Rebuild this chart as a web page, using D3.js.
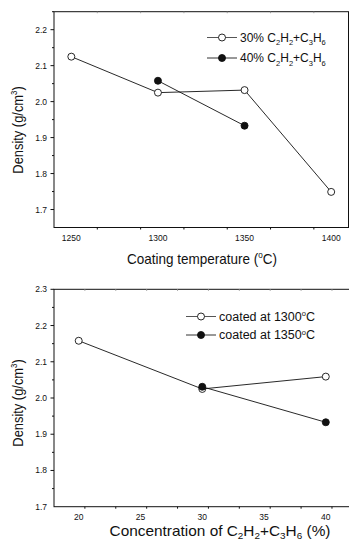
<!DOCTYPE html>
<html>
<head>
<meta charset="utf-8">
<script src="https://cdn.jsdelivr.net/npm/d3@7"></script>
<style>
  body { margin: 0; background: #fff; }
  text { font-family: "Liberation Sans", Arial, sans-serif; fill: #111; }
</style>
</head>
<body>
<script>
var width = 349, height = 543;

// top panel: density vs coating temperature
var tempX = [1250, 1300, 1350, 1400];
var dens30 = [2.125, 2.025, 2.032, 1.749];
var tempX40 = [1300, 1350];
var dens40 = [2.058, 1.933];
var topXTicks = [1250, 1300, 1350, 1400];
var topYTicks = [1.7, 1.8, 1.9, 2.0, 2.1, 2.2];

// bottom panel: density vs concentration
var concX = [20, 30, 40];
var dens1300 = [2.158, 2.025, 2.059];
var concX1350 = [30, 40];
var dens1350 = [2.031, 1.933];
var botXTicks = [20, 25, 30, 35, 40];
var botYTicks = [1.7, 1.8, 1.9, 2.0, 2.1, 2.2, 2.3];

var svg = d3.select('body').append('svg')
  .attr('width', width)
  .attr('height', height);

function panel(opt) {
  var x = d3.scaleLinear().domain(opt.xDomain).range([opt.left, opt.right]);
  var y = d3.scaleLinear().domain(opt.yDomain).range([opt.bottom, opt.top]);
  var g = svg.append('g');

  // frame
  g.append('rect')
    .attr('x', opt.left).attr('y', opt.top)
    .attr('width', opt.right - opt.left).attr('height', opt.bottom - opt.top)
    .attr('fill', 'none').attr('stroke', '#111').attr('stroke-width', 1);

  // bottom axis: major + minor ticks outward
  var xMinor = d3.range(opt.xDomain[0], opt.xDomain[1] + 1e-9, opt.xMinor)
    .filter(function(v) { return v > opt.xDomain[0] && v < opt.xDomain[1]; });
  g.selectAll('.xmin').data(xMinor).enter().append('line')
    .attr('x1', x).attr('x2', x)
    .attr('y1', opt.bottom).attr('y2', function(d) {
      return opt.bottom + (opt.xTicks.indexOf(d) >= 0 ? 3.5 : 2);
    })
    .attr('stroke', '#111');
  // top inner ticks
  g.selectAll('.xtop').data(xMinor).enter().append('line')
    .attr('x1', x).attr('x2', x)
    .attr('y1', opt.top).attr('y2', opt.top + 1.5)
    .attr('stroke', '#999');
  g.selectAll('.xlab').data(opt.xTicks).enter().append('text')
    .attr('x', x).attr('y', opt.bottom + opt.xLabOff)
    .attr('text-anchor', 'middle')
    .style('font-size', '8.5px')
    .text(function(d) { return d; });

  // left axis
  var yMinor = d3.range(Math.round(opt.yDomain[0] * 100), Math.round(opt.yDomain[1] * 100) + 1, 5)
    .map(function(v) { return v / 100; })
    .filter(function(v) { return v > opt.yDomain[0] && v < opt.yDomain[1] + 1e-9; });
  g.selectAll('.ymin').data(yMinor).enter().append('line')
    .attr('y1', y).attr('y2', y)
    .attr('x1', opt.left).attr('x2', function(d) {
      var major = opt.yTicks.some(function(t) { return Math.abs(t - d) < 1e-6; });
      return opt.left - (major ? 3.5 : 2);
    })
    .attr('stroke', '#111');
  g.selectAll('.ylab').data(opt.yTicks).enter().append('text')
    .attr('x', opt.left - 7).attr('y', function(d) { return y(d) + 3; })
    .attr('text-anchor', 'end')
    .style('font-size', '8.5px')
    .text(function(d) { return d.toFixed(1); });

  // y title
  var yt = g.append('text')
    .attr('transform', 'translate(' + opt.yTitleX + ',' + opt.yTitleY + ') rotate(-90) scale(0.86,1)')
    .attr('text-anchor', 'middle')
    .style('font-size', '15px');
  yt.append('tspan').text('Density (g/cm');
  yt.append('tspan').attr('dy', -6).style('font-size', '9px').text('3');
  yt.append('tspan').attr('dy', 6).text(')');

  // x title
  var xt = g.append('text')
    .attr('transform', 'translate(' + opt.xTitleX + ',' + opt.xTitleY + ') scale(' + opt.xTitleScale + ',1)')
    .attr('text-anchor', 'middle')
    .style('font-size', opt.xTitleSize);
  opt.xTitle(xt);

  var line = d3.line()
    .x(function(d) { return x(d[0]); })
    .y(function(d) { return y(d[1]); });

  opt.series.forEach(function(s) {
    var pts = d3.zip(s.x, s.y);
    g.append('path').datum(pts)
      .attr('d', line).attr('fill', 'none')
      .attr('stroke', '#111').attr('stroke-width', 0.9);
    g.selectAll(null).data(pts).enter().append('circle')
      .attr('cx', function(d) { return x(d[0]); })
      .attr('cy', function(d) { return y(d[1]); })
      .attr('r', 3.5)
      .attr('fill', s.filled ? '#111' : '#fff')
      .attr('stroke', '#111').attr('stroke-width', 0.9);
  });

  // legend
  opt.series.forEach(function(s, i) {
    var ly = opt.legY + i * opt.legGap;
    g.append('line')
      .attr('x1', opt.legX).attr('x2', opt.legX + 30)
      .attr('y1', ly).attr('y2', ly)
      .attr('stroke', i === 0 ? '#555' : '#333').attr('stroke-width', 1);
    g.append('circle')
      .attr('cx', opt.legX + 15).attr('cy', ly).attr('r', 3.5)
      .attr('fill', s.filled ? '#111' : '#fff')
      .attr('stroke', '#111').attr('stroke-width', 0.9);
    var t = g.append('text')
      .attr('x', opt.legX + 33).attr('y', ly + 4.3)
      .style('font-size', opt.legSize);
    s.label(t);
  });
}

function formula(t, prefix, sub, shift) {
  t.append('tspan').text(prefix + 'C');
  t.append('tspan').attr('dy', shift).style('font-size', sub).text('2');
  t.append('tspan').attr('dy', -shift).text('H');
  t.append('tspan').attr('dy', shift).style('font-size', sub).text('2');
  t.append('tspan').attr('dy', -shift).text('+C');
  t.append('tspan').attr('dy', shift).style('font-size', sub).text('3');
  t.append('tspan').attr('dy', -shift).text('H');
  t.append('tspan').attr('dy', shift).style('font-size', sub).text('6');
}

function degC(t, prefix) {
  t.append('tspan').text(prefix);
  t.append('tspan').attr('dy', -4.5).style('font-size', '7.5px').text('o');
  t.append('tspan').attr('dy', 4.5).text('C');
}

panel({
  xDomain: [1240, 1410], yDomain: [1.65, 2.25],
  left: 54, right: 348.5, top: 11.7, bottom: 227.5, xLabOff: 13.5,
  xTicks: topXTicks, xMinor: 25, yTicks: topYTicks,
  yTitleX: 23, yTitleY: 130,
  xTitleX: 202, xTitleY: 264, xTitleSize: '15px', xTitleScale: 0.9,
  xTitle: function(t) {
    t.append('tspan').text('Coating temperature (');
    t.append('tspan').attr('dy', -6).style('font-size', '9px').text('o');
    t.append('tspan').attr('dy', 6).text('C)');
  },
  legX: 207, legY: 37.5, legGap: 20.5, legSize: '12px',
  series: [
    { x: tempX, y: dens30, filled: false, label: function(t) { formula(t, '30% ', '7.5px', 3.5); } },
    { x: tempX40, y: dens40, filled: true, label: function(t) { formula(t, '40% ', '7.5px', 3.5); } }
  ]
});

panel({
  xDomain: [18, 42], yDomain: [1.7, 2.3],
  left: 54, right: 350.5, top: 289.3, bottom: 506.7, xLabOff: 13,
  xTicks: botXTicks, xMinor: 2.5, yTicks: botYTicks,
  yTitleX: 23, yTitleY: 403,
  xTitleX: 220, xTitleY: 535.5, xTitleSize: '14px', xTitleScale: 1.1,
  xTitle: function(t) {
    formula(t, 'Concentration of ', '9px', 3.5);
    t.append('tspan').attr('dy', -3.5).text(' (%)');
  },
  legX: 186, legY: 316.5, legGap: 18.5, legSize: '12.5px',
  series: [
    { x: concX, y: dens1300, filled: false, label: function(t) { degC(t, 'coated at 1300'); } },
    { x: concX1350, y: dens1350, filled: true, label: function(t) { degC(t, 'coated at 1350'); } }
  ]
});
</script>
</body>
</html>
